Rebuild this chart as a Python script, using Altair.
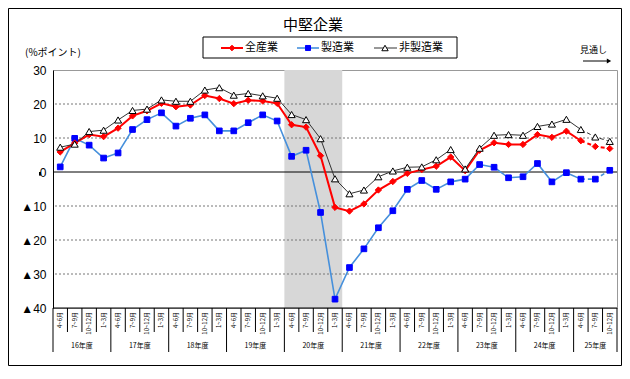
import altair as alt
import pandas as pd

# ---------------- data ----------------
quarters = ["4~6月", "7~9月", "10~12月", "1~3月"]
years = ["16年度", "17年度", "18年度", "19年度", "20年度",
         "21年度", "22年度", "23年度", "24年度", "25年度"]
quarters_per_year = [4, 4, 4, 4, 4, 4, 4, 4, 4, 3]

all_ind = [5.9, 8.5, 11.0, 10.4, 12.9, 16.5, 18.0, 20.2, 19.2, 19.7,
           22.5, 21.6, 20.1, 21.1, 20.9, 20.2, 13.9, 13.2, 4.8, -10.4,
           -11.5, -9.4, -5.3, -2.8, -0.4, 0.7, 1.7, 4.4, 0.4, 6.4,
           8.6, 8.1, 8.1, 11.0, 10.2, 12.0, 9.2, 7.5, 6.9]
mfg = [1.5, 9.9, 7.9, 4.1, 5.6, 12.5, 15.4, 17.4, 13.5, 15.8,
       16.8, 12.1, 12.1, 14.5, 16.8, 15.0, 4.6, 6.4, -11.9, -37.4,
       -28.1, -22.6, -16.4, -11.4, -5.1, -2.5, -5.1, -2.9, -2.1, 2.2,
       1.4, -1.7, -1.4, 2.5, -2.9, -0.2, -2.1, -2.1, 0.5]
nonmfg = [7.3, 8.2, 11.9, 12.3, 15.3, 18.1, 18.5, 21.2, 20.8, 20.8,
          24.1, 24.8, 22.6, 23.1, 22.4, 21.7, 16.9, 15.4, 9.8, -2.0,
          -6.4, -5.3, -1.4, 0.3, 1.4, 1.5, 3.6, 6.6, 0.9, 7.0,
          10.8, 11.0, 10.8, 13.4, 14.1, 15.5, 12.5, 10.3, 9.0]
series_names = ["全産業", "製造業", "非製造業"]
grid_values = [20, 10, -10, -20, -30]
y_ticks = [30, 20, 10, 0, -10, -20, -30, -40]
shade_year = "20年度"
forecast_from = 36  # index of last actual quarter

# ---------------- derived tables ----------------
cats = []
year_rows = []
year_bounds = [0]
start = 0
for y, n in zip(years, quarters_per_year):
    for q in quarters[:n]:
        cats.append({"year": y, "q": q, "pos": len(cats) + 0.5})
    year_rows.append({"year": y, "pos": start + n / 2})
    start += n
    year_bounds.append(start)
N = len(cats)
cat_df = pd.DataFrame(cats)
year_df = pd.DataFrame(year_rows)
ybound_df = pd.DataFrame({"b": year_bounds})
qbound_df = pd.DataFrame({"b": [k for k in range(1, N) if k not in year_bounds]})
allbound_df = pd.DataFrame({"b": list(range(1, N))})
si = years.index(shade_year)
shade_df = pd.DataFrame({"x": [year_bounds[si]], "x2": [year_bounds[si + 1]],
                         "y": [30], "y2": [-40]})
grid_df = pd.DataFrame({"v": grid_values})

def series_df(vals):
    return pd.DataFrame({"pos": [i + 0.5 for i in range(N)], "v": vals, "i": list(range(N))})

xs = alt.Scale(domain=[0, N], nice=False, zero=False)
ys = alt.Scale(domain=[-40, 30], nice=False, zero=False)
y_axis = alt.Axis(values=y_ticks, grid=False, ticks=False, domainColor="black",
                  labelExpr="datum.value < 0 ? '▲' + (-datum.value) : '' + datum.value",
                  labelFont="Liberation Sans, DejaVu Sans", labelFontSize=12,
                  labelColor="black", labelPadding=7, title=None)

def X(f):
    return alt.X(f, type="quantitative", scale=xs, axis=None)

def Y(f):
    return alt.Y(f, type="quantitative", scale=ys, axis=y_axis)

layers = []

# shaded period
layers.append(alt.Chart(shade_df).mark_rect(color="#d7d7d7").encode(
    x=X("x"), x2="x2", y=Y("y"), y2="y2"))

# grid lines
layers.append(alt.Chart(grid_df).mark_rule(color="#777", strokeDash=[2, 2], strokeWidth=1).encode(
    y=Y("v")))

# zero line, bottom line
layers.append(alt.Chart(pd.DataFrame({"v": [0, -40]})).mark_rule(color="black", strokeWidth=1).encode(
    y=Y("v")))

# small ticks on the zero line
layers.append(alt.Chart(allbound_df).transform_calculate(a="0", b="-0.9").mark_rule(
    color="black", strokeWidth=1).encode(x=X("b"), y=Y("a"), y2="b:Q"))

# category separators below the axis
layers.append(alt.Chart(qbound_df).mark_rule(color="black", strokeWidth=1).encode(
    x=X("b"), y=alt.value(238), y2=alt.value(262)))
layers.append(alt.Chart(ybound_df).mark_rule(color="black", strokeWidth=1).encode(
    x=X("b"), y=alt.value(238), y2=alt.value(282)))

# category labels
layers.append(alt.Chart(cat_df).mark_text(
    angle=270, align="right", baseline="middle", fontSize=6,
    font="Noto Sans CJK JP", color="black").encode(
    x=X("pos"), y=alt.value(242), text="q:N"))
layers.append(alt.Chart(year_df).mark_text(
    align="center", baseline="middle", fontSize=7,
    font="Noto Sans CJK JP", color="black").encode(
    x=X("pos"), y=alt.value(276), text="year:N"))

# series
styles = [
    (all_ind, "#ff0000", 2.0, "diamond", "#ff0000", "#ff0000", 40),
    (mfg, "#4690dc", 1.6, "square", "#0000ff", "#0000ff", 32),
    (nonmfg, "#333333", 1.0, "triangle-up", "white", "black", 50),
]
draw_order = [1, 0, 2]
for k in draw_order:
    vals, lc, lw, shp, fc, sc, sz = styles[k]
    df = series_df(vals)
    solid = df[df["i"] <= forecast_from]
    dashed = df[df["i"] >= forecast_from]
    layers.append(alt.Chart(solid).mark_line(color=lc, strokeWidth=lw).encode(
        x=X("pos"), y=Y("v")))
    layers.append(alt.Chart(dashed).mark_line(color=lc, strokeWidth=lw, strokeDash=[4, 3]).encode(
        x=X("pos"), y=Y("v")))
for k in draw_order:
    vals, lc, lw, shp, fc, sc, sz = styles[k]
    df = series_df(vals)
    layers.append(alt.Chart(df).mark_point(shape=shp, filled=True, fill=fc, stroke=sc,
                                           strokeWidth=1, size=sz, opacity=1).encode(
        x=X("pos"), y=Y("v")))

one = pd.DataFrame({"d": [0]})

# title
layers.append(alt.Chart(one).mark_text(text="中堅企業", fontSize=15, font="Noto Sans CJK JP",
                                       color="black", align="center", baseline="middle").encode(
    x=alt.value(260), y=alt.value(-45)))
# unit label
layers.append(alt.Chart(one).mark_text(text="(%ポイント)", fontSize=10, font="Noto Sans CJK JP",
                                       color="black", align="left", baseline="middle").encode(
    x=alt.value(-28), y=alt.value(-17)))
# forecast note and arrow
layers.append(alt.Chart(one).mark_text(text="見通し", fontSize=9, font="Noto Sans CJK JP",
                                       color="black", align="left", baseline="middle").encode(
    x=alt.value(527), y=alt.value(-20)))
layers.append(alt.Chart(one).mark_rule(color="black", strokeWidth=1).encode(
    x=alt.value(530), x2=alt.value(554), y=alt.value(-9)))
layers.append(alt.Chart(one).mark_point(shape="triangle-right", filled=True, color="black",
                                        size=25, opacity=1).encode(
    x=alt.value(556), y=alt.value(-9)))

# legend box
layers.append(alt.Chart(one).mark_rect(fill="white", stroke="black", strokeWidth=1).encode(
    x=alt.value(150), x2=alt.value(404), y=alt.value(-33), y2=alt.value(-12)))
leg_pos = [(168, 190, 179, 192), (244, 266, 255, 268), (321, 344, 332, 346)]
for k, (x1, x2, xm, xt) in enumerate(leg_pos):
    vals, lc, lw, shp, fc, sc, sz = styles[k]
    layers.append(alt.Chart(one).mark_rule(color=lc, strokeWidth=lw).encode(
        x=alt.value(x1), x2=alt.value(x2), y=alt.value(-22)))
    layers.append(alt.Chart(one).mark_point(shape=shp, filled=True, fill=fc, stroke=sc,
                                            strokeWidth=1, size=sz * 0.8, opacity=1).encode(
        x=alt.value(xm), y=alt.value(-22)))
    layers.append(alt.Chart(one).mark_text(text=series_names[k], fontSize=11,
                                           font="Noto Sans CJK JP", color="black",
                                           align="left", baseline="middle").encode(
        x=alt.value(xt), y=alt.value(-22)))

# outer frame
layers.append(alt.Chart(one).mark_rect(fillOpacity=0, stroke="black", strokeWidth=1).encode(
    x=alt.value(-44.5), x2=alt.value(568.5), y=alt.value(-61.5), y2=alt.value(295.5)))

chart = alt.layer(*layers).properties(
    width=564, height=238,
    padding={"left": 45, "top": 62, "right": 5, "bottom": 58},
    autosize=alt.AutoSizeParams(type="none"),
    background="white",
).configure_view(stroke="#999", strokeWidth=1)

chart.save("out.html", embed_options={"renderer": "svg", "actions": False})
